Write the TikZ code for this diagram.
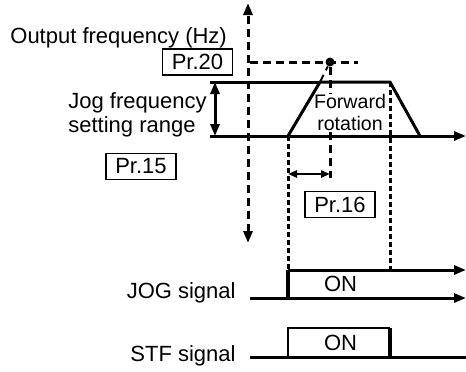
\documentclass[tikz,border=0pt]{standalone}
\usepackage{fontspec}
\setmainfont{Liberation Sans}
\usetikzlibrary{arrows.meta,positioning}

\begin{document}
\begin{tikzpicture}[x=0.5pt,y=-0.5pt,>={Triangle[length=6pt,width=4.5pt]},
  every node/.style={font=\fontsize{11}{12}\selectfont,inner sep=0pt},
  prbox/.style={draw,line width=0.9pt,minimum width=35pt,minimum height=13pt},
  sig/.style={line width=1.5pt},
  axis/.style={line width=1.5pt,dash pattern=on 4pt off 2.5pt},
  guide/.style={line width=1.5pt,dash pattern=on 2.5pt off 1.5pt}]
  \useasboundingbox (0,0) rectangle (466,371);
  % points of the frequency curve
  \coordinate (atop) at (248,3);
  \coordinate (abot) at (248,243);
  \coordinate (f0l) at (210,136);
  \coordinate (f0r) at (466,136);
  \coordinate (fjl) at (210,82);
  \coordinate (r1) at (288,136);
  \coordinate (r2) at (320,82);
  \coordinate (r3) at (390,82);
  \coordinate (r4) at (420,136);
  \coordinate (pl) at (250,62);
  \coordinate (pr) at (358,62);
  \coordinate (ja) at (215,82);
  \coordinate (jb) at (215,136);
  \coordinate (ta) at (288,174);
  \coordinate (tb) at (330,174);
  \coordinate (tv) at (330,178);
  % points of the signals
  \coordinate (jon) at (288,270);
  \coordinate (jlo) at (288,298);
  \coordinate (joff) at (390,270);
  \coordinate (je1) at (466,270);
  \coordinate (jl) at (250,298);
  \coordinate (je2) at (466,298);
  \coordinate (sl) at (250,357);
  \coordinate (s1) at (288,357);
  \coordinate (s2) at (288,328);
  \coordinate (s3) at (390,328);
  \coordinate (s4) at (390,357);
  \coordinate (sr) at (466,357);

  \node (pt) [circle,fill,minimum size=4.5pt] at (330,62) {};
  \draw[axis] (pl) -- (pr);
  \draw[axis] (pt) -- (tv);
  \draw[axis,line width=1pt] (r2) -- (pt);
  \draw[axis,<->] (abot) -- (atop);
  \draw[guide] (r1) -- (jon);
  \draw[guide] (r3) -- (joff);
  \node (fwd) [fill=white,align=center,font=\fontsize{9.8}{11}\selectfont] at (350,112) {Forward\\rotation};

  \draw[sig,->] (f0l) -- (f0r);
  \draw[sig] (fjl) -- (r2);
  \draw[sig] (r1) -- (r2) -- (r3) -- (r4);
  \draw[sig,<->] (ja) -- (jb);
  \draw[line width=1.2pt,<->,>={Triangle[length=4.5pt,width=3.5pt]}] (ta) -- (tb);

  \node (out) [anchor=base west] at (10,43) {Output frequency (Hz)};
  \node (pr20) [prbox] at (197.5,62) {Pr.20};
  \node (jog) [anchor=north west,align=left] at (68,92) {Jog frequency\\setting range};
  \node (pr15) [prbox] at (141,166.5) {Pr.15};
  \node (pr16) [prbox] at (340,204.5) {Pr.16};

  % JOG signal
  \draw[sig,->] (jon) -- (je1);
  \draw[sig,->] (jl) -- (je2);
  \draw[line width=2pt] (jon) -- (jlo);
  \node (jon1) [anchor=base] at (340.5,291) {ON};
  \node (jsig) [anchor=base east] at (236,298) {JOG signal};

  % STF signal
  \draw[sig] (sl) -- (sr);
  \draw[line width=1pt] (s1) -- (s2) -- (s3);
  \draw[line width=2pt] (s3) -- (s4);
  \node (son) [anchor=base] at (340.5,350) {ON};
  \node (ssig) [anchor=base east] at (236,361) {STF signal};
\end{tikzpicture}
\end{document}
